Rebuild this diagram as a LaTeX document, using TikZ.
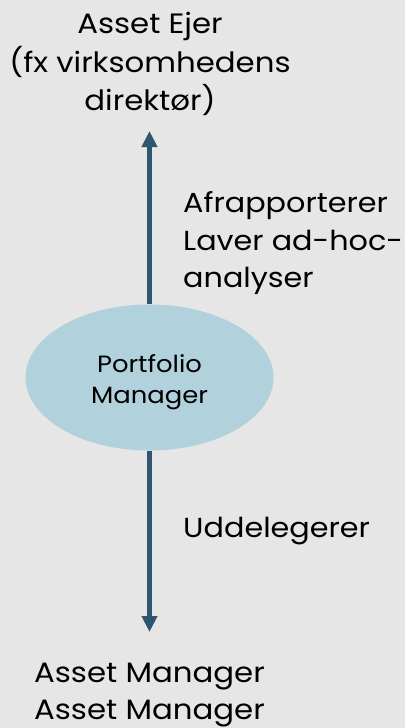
\documentclass[tikz,border=0pt]{standalone}
\usepackage{fontspec}
\setmainfont[FakeStretch=1.1]{Poppins}
\usetikzlibrary{shapes.geometric,arrows.meta}
\definecolor{bg}{HTML}{E6E6E6}
\definecolor{ellfill}{HTML}{B1D1DC}
\definecolor{arrowc}{HTML}{2E5670}
\tikzset{
  lbl/.style={inner sep=0pt, text=black},
  big/.style={lbl, font=\fontsize{28}{34}\selectfont},
  mid/.style={lbl, font=\fontsize{27.5}{32}\selectfont},
  conn/.style={draw=arrowc, line width=4.5pt, -{Triangle[width=15pt,length=16pt]}}
}
\begin{document}
\begin{tikzpicture}[x=1pt,y=-1pt]
\fill[bg] (0,0) rectangle (405,728);
\useasboundingbox (0,0) rectangle (405,728);
% top text
\node[big, anchor=base] (t1) at (150,33) {Asset Ejer};
\node[big, anchor=base] (t2) at (150,72) {(fx virksomhedens};
\node[big, anchor=base] (t3) at (150,110) {direktør)};
% ellipse
\node[ellipse, fill=ellfill, minimum width=248pt, minimum height=146pt, inner sep=0pt] (pm) at (149.5,377.5) {};
\node[lbl, font=\fontsize{23.5}{28}\selectfont, anchor=base] (pm1) at (149.5,372) {Portfolio};
\node[lbl, font=\fontsize{23.5}{28}\selectfont, anchor=base] (pm2) at (149.5,403) {Manager};
% side labels
\node[mid, anchor=base west] (r1) at (183,212) {Afrapporterer};
\node[mid, anchor=base west] (r2) at (183,250) {Laver ad-hoc-};
\node[mid, anchor=base west] (r3) at (183,287) {analyser};
\node[mid, anchor=base west] (d1) at (183,537) {Uddelegerer};
% bottom text
\node[big, anchor=base] (b1) at (149.5,682) {Asset Manager};
\node[big, anchor=base] (b2) at (149.5,719) {Asset Manager};
% arrows
\coordinate (topTip) at (149.5,131);
\coordinate (botTip) at (149.5,632);
\draw[conn] (pm.north) -- (topTip);
\draw[conn] (pm.south) -- (botTip);
\end{tikzpicture}
\end{document}
